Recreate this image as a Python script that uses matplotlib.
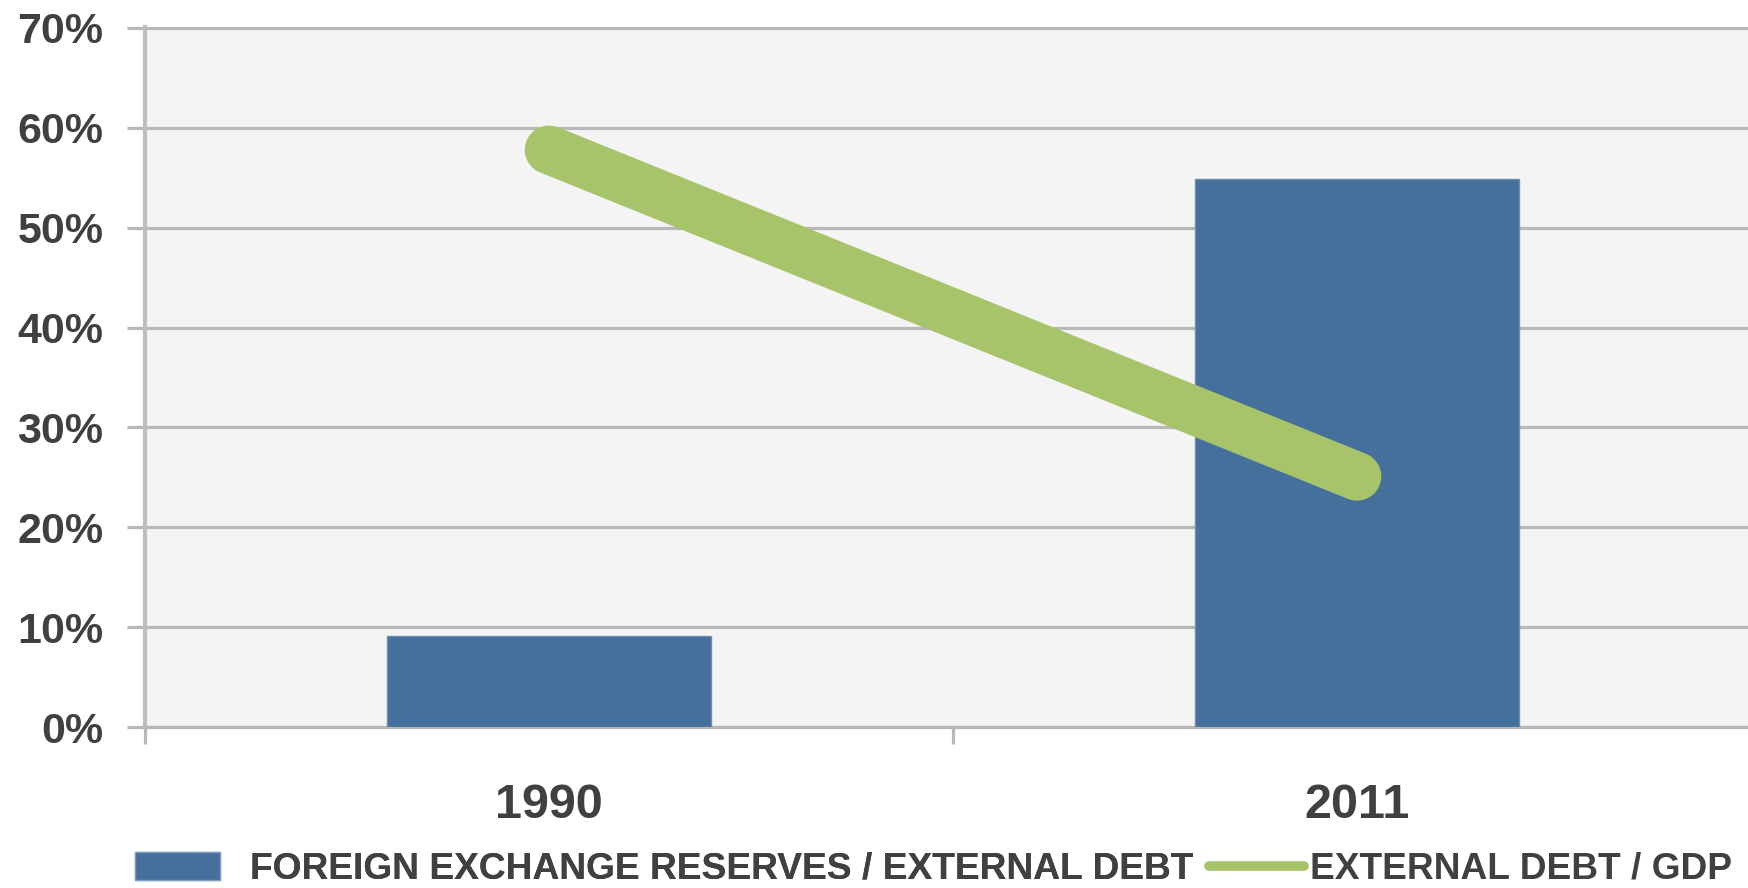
import matplotlib
matplotlib.use("Agg")
import matplotlib.pyplot as plt
from matplotlib.patches import Patch
from matplotlib.lines import Line2D
from matplotlib.ticker import FuncFormatter

years = ["1990", "2011"]
reserves_to_debt = [9.1, 54.9]   # bars, %
debt_to_gdp = [57.8, 25.1]       # line, %
y_ticks = [0, 10, 20, 30, 40, 50, 60, 70]

bar_color = "#46709C"
line_color = "#A8C46A"
grid_color = "#B8B8B8"
text_color = "#404040"

plt.rcParams['font.family'] = ['Liberation Sans', 'DejaVu Sans']
plt.rcParams['font.weight'] = 'bold'

fig = plt.figure(figsize=(17.49, 8.88), dpi=100)
fig.patch.set_facecolor("white")
ax = fig.add_axes([145 / 1749, 161 / 888, 1616 / 1749, 700 / 888])
ax.set_facecolor("#F4F4F4")

x = list(range(len(years)))
ax.bar(x, reserves_to_debt, width=0.402, color=bar_color,
       edgecolor="#6C8DB3", linewidth=1, zorder=3)
ax.plot(x, debt_to_gdp, color=line_color, linewidth=35,
        solid_capstyle='round', zorder=4)

ax.set_xlim(-0.5, 1.5)
ax.set_ylim(0, 70.1)
ax.set_yticks(y_ticks)
ax.yaxis.set_major_formatter(FuncFormatter(lambda v, p: f"{v:.0f}%"))
ax.grid(axis='y', color=grid_color, linewidth=2.3, zorder=1)

# category boundaries as major ticks, labels on minor ticks
ax.set_xticks([-0.5, 0.5, 1.5])
ax.set_xticklabels([])
ax.set_xticks(x, minor=True)
ax.set_xticklabels(years, minor=True)
ax.tick_params(axis='x', which='major', length=12, width=2.3, color=grid_color)
ax.tick_params(axis='x', which='minor', length=0, pad=40,
               labelsize=35, labelcolor=text_color)
ax.tick_params(axis='y', length=13, width=2.3, color=grid_color, pad=17,
               labelsize=31, labelcolor=text_color)

for s in ['top', 'right']:
    ax.spines[s].set_visible(False)
ax.spines['left'].set_color("#BDBDBD")
ax.spines['left'].set_linewidth(3)
ax.spines['bottom'].set_color(grid_color)
ax.spines['bottom'].set_linewidth(2.3)

fs = 26.7
leg1 = fig.legend(handles=[Patch(facecolor=bar_color, edgecolor="#7FA0C4", linewidth=1)],
                  labels=["FOREIGN EXCHANGE RESERVES / EXTERNAL DEBT"],
                  loc='center left', bbox_to_anchor=(135 / 1749, 19 / 888),
                  frameon=False, borderpad=0, borderaxespad=0,
                  handlelength=2.3, handleheight=0.78, handletextpad=0.81,
                  prop={'size': fs, 'weight': 'bold'}, labelcolor=text_color)
fig.legend(handles=[Line2D([0], [0], color=line_color, linewidth=7,
                           solid_capstyle='round')],
           labels=["EXTERNAL DEBT / GDP"],
           loc='center left', bbox_to_anchor=(1209 / 1749, 19 / 888),
           frameon=False, borderpad=0, borderaxespad=0,
           handlelength=2.57, handletextpad=0.16,
           prop={'size': fs, 'weight': 'bold'}, labelcolor=text_color)
fig.add_artist(leg1)

fig.savefig("out.png", dpi=100)
